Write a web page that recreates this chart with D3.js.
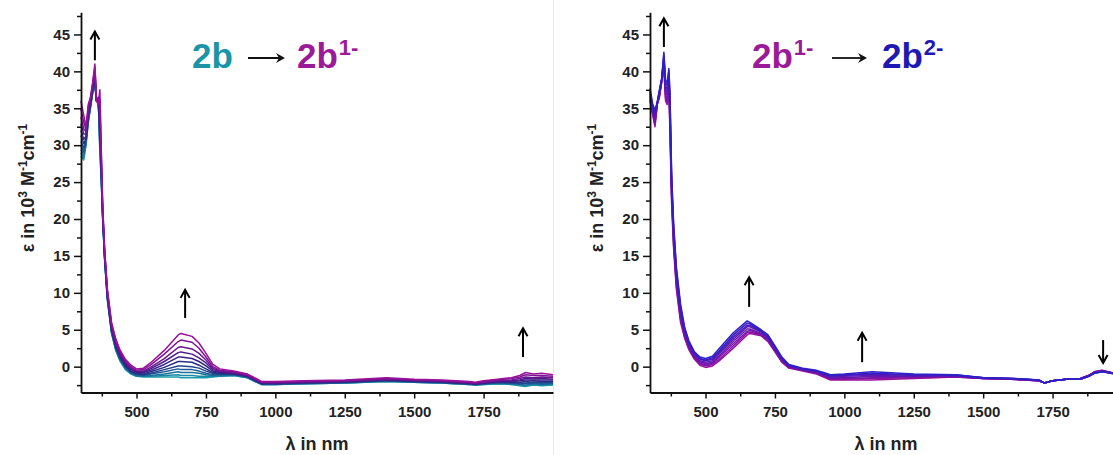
<!DOCTYPE html>
<html>
<head>
<meta charset="utf-8">
<script src="https://cdn.jsdelivr.net/npm/d3@7"></script>
<style>
  body { margin: 0; background: #fff; }
  svg { display: block; font-family: "Liberation Sans", Arial, sans-serif; }
</style>
</head>
<body>
<div id="chart"></div>
<script>
// wavelength grid (nm) shared by every spectrum
const wavelengths = [300, 310, 318, 326, 334, 342, 350, 356, 362, 368, 372, 378, 385, 395, 410, 425, 440, 460, 480, 500,
  525, 550, 600, 650, 660, 700, 725, 750, 775, 800, 850, 900, 925, 950, 1000, 1100, 1250, 1400, 1500, 1600,
  1700, 1720, 1750, 1800, 1850, 1880, 1900, 1930, 1960, 2000];

// left panel: one row per wavelength, columns = titration steps 2b -> 2b1- (eps in 10^3 M-1 cm-1)
const leftEps = [
  [28.5, 28.9, 29.4, 29.9, 30.5, 31.3, 32.0, 32.9, 33.8, 34.9, 36],
  [28, 28.3, 28.7, 29.1, 29.6, 30.2, 30.8, 31.5, 32.2, 33.1, 34],
  [30, 30.1, 30.3, 30.5, 30.7, 30.9, 31.2, 31.5, 31.8, 32.1, 32.5],
  [33, 33.1, 33.3, 33.5, 33.7, 33.9, 34.2, 34.5, 34.8, 35.1, 35.5],
  [35, 35.1, 35.2, 35.3, 35.4, 35.6, 35.7, 35.9, 36.1, 36.3, 36.5],
  [37, 37.1, 37.2, 37.3, 37.4, 37.6, 37.7, 37.9, 38.1, 38.3, 38.5],
  [38, 38.2, 38.4, 38.6, 38.8, 39.1, 39.4, 39.7, 40.1, 40.6, 41],
  [36, 36, 36, 36, 36, 36, 36, 36, 36, 36, 36],
  [36.5, 36.5, 36.4, 36.3, 36.2, 36.1, 36.0, 35.9, 35.8, 35.7, 35.5],
  [29, 29.4, 30.0, 30.6, 31.3, 32.1, 33.0, 33.9, 35.0, 36.2, 37.5],
  [26, 26.3, 26.6, 27.0, 27.4, 27.9, 28.4, 28.9, 29.5, 30.3, 31],
  [20, 20.1, 20.2, 20.4, 20.5, 20.7, 20.9, 21.2, 21.4, 21.7, 22],
  [14.5, 14.6, 14.7, 14.8, 14.9, 15.1, 15.2, 15.4, 15.6, 15.8, 16],
  [9, 9.1, 9.2, 9.3, 9.4, 9.6, 9.7, 9.9, 10.1, 10.3, 10.5],
  [4.5, 4.6, 4.7, 4.8, 4.9, 5.1, 5.2, 5.4, 5.6, 5.8, 6],
  [2.2, 2.3, 2.4, 2.5, 2.6, 2.8, 3.0, 3.1, 3.3, 3.6, 3.8],
  [0.8, 0.9, 1.0, 1.1, 1.2, 1.4, 1.5, 1.7, 1.9, 2.1, 2.3],
  [-0.4, -0.3, -0.2, -0.1, 0.0, 0.1, 0.3, 0.4, 0.6, 0.8, 1.0],
  [-1.0, -0.9, -0.9, -0.8, -0.7, -0.6, -0.4, -0.3, -0.2, 0.0, 0.2],
  [-1.3, -1.3, -1.2, -1.1, -1.0, -0.9, -0.8, -0.7, -0.6, -0.5, -0.3],
  [-1.4, -1.3, -1.3, -1.2, -1.1, -1.0, -0.8, -0.7, -0.6, -0.4, -0.2],
  [-1.4, -1.3, -1.2, -1.0, -0.9, -0.7, -0.5, -0.3, -0.1, 0.2, 0.5],
  [-1.4, -1.2, -1.0, -0.7, -0.4, -0.1, 0.3, 0.7, 1.1, 1.7, 2.2],
  [-1.4, -1.1, -0.7, -0.3, 0.1, 0.7, 1.3, 1.9, 2.6, 3.4, 4.3],
  [-1.5, -1.2, -0.8, -0.4, 0.1, 0.7, 1.3, 2.0, 2.7, 3.6, 4.5],
  [-1.5, -1.2, -0.8, -0.4, 0.0, 0.6, 1.1, 1.7, 2.4, 3.3, 4.1],
  [-1.5, -1.3, -0.9, -0.6, -0.2, 0.2, 0.7, 1.2, 1.8, 2.5, 3.2],
  [-1.5, -1.3, -1.1, -0.9, -0.6, -0.3, 0.1, 0.5, 0.9, 1.3, 1.8],
  [-1.4, -1.3, -1.2, -1.1, -0.9, -0.8, -0.6, -0.4, -0.2, 0.0, 0.3],
  [-1.3, -1.3, -1.2, -1.1, -1.0, -0.9, -0.8, -0.7, -0.6, -0.5, -0.3],
  [-1.2, -1.2, -1.1, -1.1, -1.0, -1.0, -0.9, -0.9, -0.8, -0.7, -0.6],
  [-1.5, -1.5, -1.4, -1.4, -1.4, -1.3, -1.3, -1.2, -1.2, -1.1, -1.0],
  [-2.0, -2.0, -1.9, -1.9, -1.9, -1.8, -1.8, -1.7, -1.7, -1.6, -1.5],
  [-2.4, -2.4, -2.4, -2.3, -2.3, -2.3, -2.2, -2.2, -2.1, -2.1, -2.0],
  [-2.4, -2.4, -2.4, -2.3, -2.3, -2.3, -2.2, -2.2, -2.1, -2.1, -2.0],
  [-2.3, -2.3, -2.3, -2.2, -2.2, -2.2, -2.1, -2.1, -2.0, -2.0, -1.9],
  [-2.2, -2.2, -2.2, -2.1, -2.1, -2.1, -2.0, -2.0, -1.9, -1.9, -1.8],
  [-2.0, -2.0, -1.9, -1.9, -1.9, -1.8, -1.8, -1.7, -1.7, -1.6, -1.5],
  [-2.1, -2.1, -2.1, -2.0, -2.0, -2.0, -1.9, -1.9, -1.8, -1.8, -1.7],
  [-2.2, -2.2, -2.2, -2.1, -2.1, -2.1, -2.0, -2.0, -1.9, -1.9, -1.8],
  [-2.4, -2.4, -2.4, -2.3, -2.3, -2.3, -2.2, -2.2, -2.1, -2.1, -2.0],
  [-2.5, -2.5, -2.5, -2.4, -2.4, -2.4, -2.3, -2.3, -2.2, -2.2, -2.1],
  [-2.4, -2.4, -2.3, -2.3, -2.3, -2.2, -2.2, -2.1, -2.1, -2.0, -1.9],
  [-2.3, -2.3, -2.2, -2.2, -2.1, -2.1, -2.0, -2.0, -1.9, -1.8, -1.7],
  [-2.4, -2.4, -2.3, -2.2, -2.2, -2.1, -2.0, -1.9, -1.8, -1.6, -1.5],
  [-2.6, -2.5, -2.4, -2.3, -2.2, -2.1, -1.9, -1.8, -1.6, -1.4, -1.2],
  [-2.7, -2.6, -2.5, -2.3, -2.2, -2.0, -1.8, -1.6, -1.4, -1.1, -0.8],
  [-2.5, -2.4, -2.3, -2.2, -2.1, -1.9, -1.8, -1.6, -1.5, -1.2, -1.0],
  [-2.6, -2.5, -2.4, -2.3, -2.1, -2.0, -1.8, -1.6, -1.4, -1.2, -0.9],
  [-2.5, -2.4, -2.3, -2.2, -2.1, -2.0, -1.8, -1.7, -1.5, -1.3, -1.1]
];

// right panel: columns = titration steps 2b1- -> 2b2-
const rightEps = [
  [36, 36.2, 36.5, 36.7, 37.0, 37.2, 37.4, 37.7],
  [34, 34.2, 34.4, 34.6, 34.9, 35.1, 35.3, 35.5],
  [32.5, 32.8, 33.1, 33.5, 33.8, 34.1, 34.5, 34.8],
  [35.5, 35.5, 35.6, 35.6, 35.7, 35.7, 35.8, 35.8],
  [36.5, 36.6, 36.8, 36.9, 37.1, 37.2, 37.4, 37.5],
  [38.5, 38.6, 38.6, 38.7, 38.8, 38.9, 38.9, 39],
  [40.5, 40.8, 41.1, 41.4, 41.7, 42.0, 42.3, 42.6],
  [36, 36.4, 36.8, 37.2, 37.6, 38.0, 38.4, 38.8],
  [35.5, 35.9, 36.3, 36.8, 37.2, 37.6, 38.1, 38.5],
  [37.5, 37.9, 38.3, 38.7, 39.2, 39.6, 40.0, 40.4],
  [31.5, 32.3, 33.0, 33.8, 34.6, 35.4, 36.2, 37],
  [22, 22.6, 23.1, 23.7, 24.3, 24.8, 25.4, 26],
  [16, 16.5, 17.0, 17.5, 18.0, 18.5, 19.0, 19.5],
  [10.5, 10.9, 11.3, 11.8, 12.2, 12.6, 13.1, 13.5],
  [6, 6.4, 6.7, 7.1, 7.4, 7.8, 8.1, 8.5],
  [3.8, 4.0, 4.2, 4.4, 4.7, 4.9, 5.1, 5.3],
  [2.3, 2.5, 2.6, 2.8, 3.0, 3.2, 3.3, 3.5],
  [1.0, 1.1, 1.3, 1.4, 1.6, 1.7, 1.9, 2.0],
  [0.2, 0.4, 0.5, 0.7, 0.8, 1.0, 1.1, 1.3],
  [-0.1, 0.1, 0.2, 0.4, 0.6, 0.8, 0.9, 1.1],
  [0.1, 0.3, 0.5, 0.6, 0.8, 1.0, 1.2, 1.4],
  [0.8, 1.0, 1.3, 1.5, 1.8, 2.0, 2.2, 2.5],
  [2.5, 2.8, 3.1, 3.4, 3.7, 4.0, 4.3, 4.6],
  [4.3, 4.6, 4.8, 5.1, 5.4, 5.6, 5.9, 6.2],
  [4.5, 4.7, 4.9, 5.1, 5.4, 5.6, 5.8, 6.0],
  [4.2, 4.3, 4.4, 4.5, 4.7, 4.8, 4.9, 5.0],
  [3.4, 3.5, 3.7, 3.8, 3.9, 4.0, 4.2, 4.3],
  [2.0, 2.1, 2.2, 2.3, 2.5, 2.6, 2.7, 2.8],
  [0.6, 0.7, 0.8, 0.9, 1.0, 1.1, 1.2, 1.3],
  [-0.2, -0.1, -0.1, 0.0, 0.1, 0.2, 0.2, 0.3],
  [-0.6, -0.5, -0.5, -0.4, -0.4, -0.3, -0.3, -0.2],
  [-1.0, -0.9, -0.9, -0.8, -0.7, -0.6, -0.6, -0.5],
  [-1.4, -1.3, -1.2, -1.1, -1.1, -1.0, -0.9, -0.8],
  [-1.8, -1.7, -1.6, -1.5, -1.4, -1.3, -1.2, -1.1],
  [-1.8, -1.7, -1.6, -1.5, -1.3, -1.2, -1.1, -1.0],
  [-1.8, -1.6, -1.5, -1.3, -1.2, -1.0, -0.9, -0.7],
  [-1.6, -1.5, -1.4, -1.3, -1.3, -1.2, -1.1, -1.0],
  [-1.4, -1.4, -1.3, -1.3, -1.2, -1.2, -1.1, -1.1],
  [-1.6, -1.6, -1.6, -1.6, -1.5, -1.5, -1.5, -1.5],
  [-1.7, -1.7, -1.7, -1.7, -1.6, -1.6, -1.6, -1.6],
  [-1.9, -1.9, -1.9, -1.9, -1.8, -1.8, -1.8, -1.8],
  [-2.2, -2.2, -2.2, -2.2, -2.2, -2.2, -2.2, -2.2],
  [-1.9, -1.9, -1.9, -1.9, -1.9, -1.9, -1.9, -1.9],
  [-1.7, -1.7, -1.7, -1.7, -1.7, -1.7, -1.7, -1.7],
  [-1.6, -1.6, -1.6, -1.6, -1.7, -1.7, -1.7, -1.7],
  [-1.2, -1.2, -1.2, -1.2, -1.3, -1.3, -1.3, -1.3],
  [-0.7, -0.7, -0.8, -0.8, -0.8, -0.9, -0.9, -0.9],
  [-0.5, -0.5, -0.6, -0.6, -0.6, -0.6, -0.7, -0.7],
  [-0.8, -0.8, -0.8, -0.8, -0.9, -0.9, -0.9, -0.9],
  [-1.1, -1.1, -1.1, -1.1, -1.1, -1.1, -1.1, -1.1]
];

// axis ticks
const xTicks = [500, 750, 1000, 1250, 1500, 1750];
const xMinorTicks = [375, 625, 875, 1125, 1375, 1625, 1875];
const yTicks = [0, 5, 10, 15, 20, 25, 30, 35, 40, 45];
const yMinorTicks = [-2.5, 2.5, 7.5, 12.5, 17.5, 22.5, 27.5, 32.5, 37.5, 42.5, 47.5];

// change arrows: wavelength, eps at tail, eps at head
const leftArrowNm = [350, 675, 1892];
const leftArrowFrom = [41.5, 6.6, 1.3];
const leftArrowTo = [45.4, 10.4, 5.2];
const rightArrowNm = [350, 657, 1064, 1932];
const rightArrowFrom = [43.3, 8.1, 0.6, 3.6];
const rightArrowTo = [47.2, 12.1, 4.6, 0.5];

const leftColors = ["#1b9bab", "#1a87a4", "#1b709c", "#1e5a94", "#21448c", "#262f86", "#382286", "#4f1b8b", "#671690", "#801295", "#9a0f9b"];
const rightColors = ["#9a0f9b", "#8a11a1", "#7a13a7", "#6a16ad", "#5a18b4", "#4a1bba", "#3a1dc1", "#2c20c8"];

const W = 1113, H = 455;
const svg = d3.select("#chart")
    .append("svg")
    .attr("width", W)
    .attr("height", H);

// faint divider between the two panels
svg.append("line")
    .attr("x1", 553.5).attr("x2", 553.5)
    .attr("y1", 0).attr("y2", H)
    .attr("stroke", "#e6e6e6")
    .attr("stroke-width", 1);

const y = d3.scaleLinear().domain([-3.5, 48]).range([392.5, 12.3]);

function drawArrow(g, x, nm, from, to) {
    const xa = x(nm), y0 = y(from), y1 = y(to);
    const dir = y1 < y0 ? 1 : -1;
    g.append("line")
        .attr("x1", xa).attr("x2", xa)
        .attr("y1", y0).attr("y2", y1)
        .attr("stroke", "#000").attr("stroke-width", 2);
    g.append("path")
        .attr("d", `M${xa - 4.5},${y1 + dir * 8} L${xa},${y1} L${xa + 4.5},${y1 + dir * 8}`)
        .attr("fill", "none").attr("stroke", "#000").attr("stroke-width", 2);
}

function drawPanel(left, eps, colors, arrowNm, arrowFrom, arrowTo) {
    const x = d3.scaleLinear().domain([300, 2000]).range([left, left + 472]);
    const g = svg.append("g");

    const line = d3.line().x(d => x(d[0])).y(d => y(d[1]));
    const nSteps = eps[0].length;
    for (let k = 0; k < nSteps; k++) {
        const pts = wavelengths.map((w, i) => [w, eps[i][k]]);
        g.append("path")
            .datum(pts)
            .attr("d", line)
            .attr("fill", "none")
            .attr("stroke", colors[k])
            .attr("stroke-width", 1.5)
            .attr("stroke-linejoin", "round");
    }

    // Y AXIS
    g.append("g")
        .attr("transform", `translate(${left},0)`)
        .call(d3.axisLeft(y).tickValues(yTicks).tickSize(7).tickPadding(4).tickSizeOuter(0));
    g.append("g")
        .attr("transform", `translate(${left},0)`)
        .call(d3.axisLeft(y).tickValues(yMinorTicks).tickSize(4).tickFormat(""))
        .call(s => s.select(".domain").remove());

    // X AXIS
    g.append("g")
        .attr("transform", `translate(0,${y.range()[0]})`)
        .call(d3.axisBottom(x).tickValues(xTicks).tickFormat(d3.format("d"))
            .tickSize(6).tickPadding(8).tickSizeOuter(0));
    g.append("g")
        .attr("transform", `translate(0,${y.range()[0]})`)
        .call(d3.axisBottom(x).tickValues(xMinorTicks).tickSize(4).tickFormat(""))
        .call(s => s.select(".domain").remove());

    g.selectAll(".domain").attr("stroke", "#111").attr("stroke-width", 1.8);
    g.selectAll(".tick line").attr("stroke", "#111").attr("stroke-width", 1.5);
    g.selectAll(".tick text")
        .attr("font-family", "Liberation Sans, Arial, sans-serif")
        .attr("font-size", 15)
        .attr("font-weight", "bold")
        .attr("fill", "#222");

    // axis titles
    g.append("text")
        .attr("x", left + 236)
        .attr("y", 450)
        .attr("text-anchor", "middle")
        .attr("font-size", 18)
        .attr("font-weight", "bold")
        .attr("fill", "#222")
        .text("λ in nm");

    const yl = g.append("text")
        .attr("transform", `translate(${left - 47},188) rotate(-90)`)
        .attr("text-anchor", "middle")
        .attr("font-size", 18)
        .attr("font-weight", "bold")
        .attr("fill", "#222");
    yl.append("tspan").text("ε in 10");
    yl.append("tspan").attr("font-size", 12).attr("dy", -7).text("3");
    yl.append("tspan").attr("dy", 7).text(" M");
    yl.append("tspan").attr("font-size", 12).attr("dy", -7).text("-1");
    yl.append("tspan").attr("dy", 7).text("cm");
    yl.append("tspan").attr("font-size", 12).attr("dy", -7).text("-1");

    arrowNm.forEach((nm, i) => drawArrow(g, x, nm, arrowFrom[i], arrowTo[i]));
}

drawPanel(81, leftEps, leftColors, leftArrowNm, leftArrowFrom, leftArrowTo);
drawPanel(650, rightEps, rightColors, rightArrowNm, rightArrowFrom, rightArrowTo);

// TITLES
function species(x, colour, sup) {
    const t = svg.append("text")
        .attr("x", x).attr("y", 68)
        .attr("font-size", 35)
        .attr("font-weight", "bold")
        .attr("fill", colour);
    t.append("tspan").text("2b");
    if (sup) t.append("tspan").attr("font-size", 22).attr("dy", -13).attr("dx", 1).text(sup);
}
function reactionArrow(x1, x2) {
    svg.append("line")
        .attr("x1", x1).attr("x2", x2 - 4)
        .attr("y1", 58).attr("y2", 58)
        .attr("stroke", "#111").attr("stroke-width", 1.8);
    svg.append("path")
        .attr("d", `M${x2 - 9},${53} L${x2},58 L${x2 - 9},${63} L${x2 - 6},58 Z`)
        .attr("fill", "#111");
}

species(192, "#1a94a6", null);
reactionArrow(248, 285);
species(297, "#9a1a98", "1-");

species(752, "#9a1a98", "1-");
reactionArrow(832, 867);
species(882, "#1e19b2", "2-");
</script>
</body>
</html>
